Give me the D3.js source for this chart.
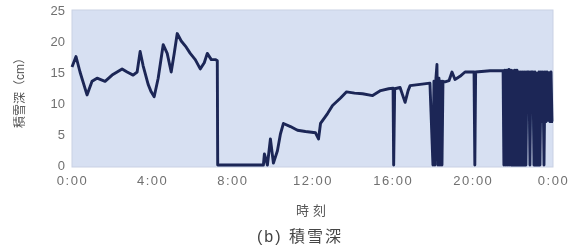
<!DOCTYPE html>
<html>
<head>
<meta charset="utf-8">
<script src="https://cdn.jsdelivr.net/npm/d3@7"></script>
<style>
  body { margin: 0; background: #fff; }
  text { font-family: "Liberation Sans", "Noto Sans CJK JP", sans-serif; }
</style>
</head>
<body>
<div id="chart"></div>
<script>
// hour of day (0-24) and snow depth (cm)
var hours = [
  0, 0.2, 0.4, 0.75, 1.0, 1.25, 1.65, 2.0, 2.25, 2.5, 2.75, 3.05, 3.25, 3.4, 3.55, 3.8, 3.95,
  4.1, 4.3, 4.55, 4.75, 4.95, 5.1, 5.25, 5.45, 5.7, 5.9, 6.15, 6.4, 6.6, 6.75, 6.95, 7.15, 7.25,
  7.27, 9.55, 9.6, 9.75, 9.9, 10.05, 10.25, 10.4, 10.55, 10.9, 11.25, 11.65, 12.15, 12.3, 12.4,
  12.75, 13.0, 13.4, 13.7, 14.1, 14.5, 15.0, 15.4, 15.8, 16.02, 16.05, 16.1, 16.37, 16.62, 16.77,
  16.87, 17.37, 17.86, 18.01, 18.06, 18.11, 18.16, 18.21, 18.26, 18.31, 18.36, 18.41, 18.46, 18.51,
  18.61, 18.81, 18.96, 19.11, 19.36, 19.61, 20.06, 20.1, 20.14, 20.86, 21.51,
  21.55, 21.6, 21.65, 21.7, 21.75, 21.8, 21.85, 21.9, 21.95, 22.0, 22.05, 22.1, 22.15, 22.2,
  22.25, 22.3, 22.35, 22.4, 22.45, 22.5, 22.55, 22.6, 22.65, 22.7,
  22.8, 22.85, 22.9, 23.0, 23.05, 23.1, 23.15, 23.2, 23.25, 23.3, 23.35, 23.4,
  23.45, 23.5, 23.55, 23.6, 23.65, 23.7, 23.75, 23.8, 23.85, 23.9, 23.95, 24
];
var depth = [
  15.8, 17.5, 15, 11.3, 13.5, 14, 13.5, 14.5, 15, 15.5, 15, 14.5, 15, 18.3, 16, 13, 11.8,
  11, 14, 19.4, 18, 15, 18, 21.2, 20, 19, 18, 17, 15.5, 16.5, 18, 17, 17, 16.8,
  0, 0, 1.8, 0, 4.2, 0.3, 2.3, 5, 6.7, 6.2, 5.6, 5.4, 5.2, 4.2, 6.7,
  8.3, 9.6, 10.8, 11.8, 11.6, 11.5, 11.2, 12, 12.3, 12.4, 0, 12.3, 12.5, 10.1, 12,
  12.8, 13, 13.2, 0, 13.5, 0, 14, 16.2, 0, 14, 0, 13.5, 0, 13.5,
  13.4, 13.6, 15, 13.8, 14.3, 15, 15, 0, 15, 15.2, 15.2,
  0, 15.3, 0, 15.3, 0, 15.4, 0, 15.3, 0, 15.2, 0, 15.3, 0, 15.3,
  0, 15, 0, 15, 0, 15, 0, 15, 0, 15,
  15, 0, 15, 15, 0, 15, 0, 14.8, 0, 15, 0, 15,
  7, 15, 0, 15, 7, 15, 7.2, 14.9, 7, 15, 7, 7
];
var xTicks = [0, 4, 8, 12, 16, 20, 24];
var xTickLabels = ["0:00", "4:00", "8:00", "12:00", "16:00", "20:00", "0:00"];
var yTicks = [0, 5, 10, 15, 20, 25];

var W = 584, H = 249;
var margin = {top: 10, right: 31, bottom: 84, left: 72},
    width = W - margin.left - margin.right,
    height = H - margin.top - margin.bottom;

var svg = d3.select("#chart").append("svg")
    .attr("width", W)
    .attr("height", H);

var defs = svg.append("defs");
defs.append("filter").attr("id", "soft")
  .append("feGaussianBlur").attr("stdDeviation", 0.55);

var g = svg.append("g")
    .attr("transform", "translate(" + margin.left + "," + margin.top + ")");

var x = d3.scaleLinear().domain([0, 24]).range([0, width]);
var y = d3.scaleLinear().domain([0, 25]).range([height, 0]);

// plot background
g.append("rect")
    .attr("x", 0).attr("y", 0)
    .attr("width", width).attr("height", height + 2)
    .attr("fill", "#d7e0f2")
    .attr("stroke", "#c9d1e4")
    .attr("stroke-width", 1);

var data = hours.map(function(h, i) { return {h: h, v: depth[i]}; });

var line = d3.line()
    .x(function(d) { return x(d.h); })
    .y(function(d) { return y(d.v); });

g.append("path")
    .datum(data)
    .attr("d", line)
    .attr("fill", "none")
    .attr("stroke", "#1b2656")
    .attr("stroke-width", 2.9)
    .attr("stroke-linejoin", "round")
    .attr("filter", "url(#soft)");

// axes, no tick marks or domain line
var xAxis = g.append("g")
    .attr("transform", "translate(0," + height + ")")
    .call(d3.axisBottom(x).tickValues(xTicks).tickSize(0).tickPadding(11)
      .tickFormat(function(d, i) { return xTickLabels[i]; }));
xAxis.select(".domain").remove();
xAxis.selectAll("text")
    .attr("font-size", 13)
    .attr("letter-spacing", 1.5)
    .attr("fill", "#707070")
    .attr("filter", "url(#soft)");

var yAxis = g.append("g")
    .call(d3.axisLeft(y).tickValues(yTicks).tickSize(0).tickPadding(7));
yAxis.select(".domain").remove();
yAxis.selectAll("text")
    .attr("font-size", 13)
    .attr("fill", "#707070")
    .attr("filter", "url(#soft)");

// titles
svg.append("text")
    .attr("x", 313).attr("y", 215)
    .attr("text-anchor", "middle")
    .attr("font-size", 13)
    .attr("letter-spacing", 4)
    .attr("fill", "#555")
    .attr("filter", "url(#soft)")
    .text("時刻");

svg.append("text")
    .attr("transform", "translate(24,90) rotate(-90)")
    .attr("text-anchor", "middle")
    .attr("font-size", 12)
    .attr("fill", "#555")
    .attr("filter", "url(#soft)")
    .text("積雪深（cm）");

svg.append("text")
    .attr("x", 300).attr("y", 242)
    .attr("text-anchor", "middle")
    .attr("font-size", 16)
    .attr("letter-spacing", 2)
    .attr("fill", "#444")
    .attr("filter", "url(#soft)")
    .text("(b) 積雪深");
</script>
</body>
</html>
